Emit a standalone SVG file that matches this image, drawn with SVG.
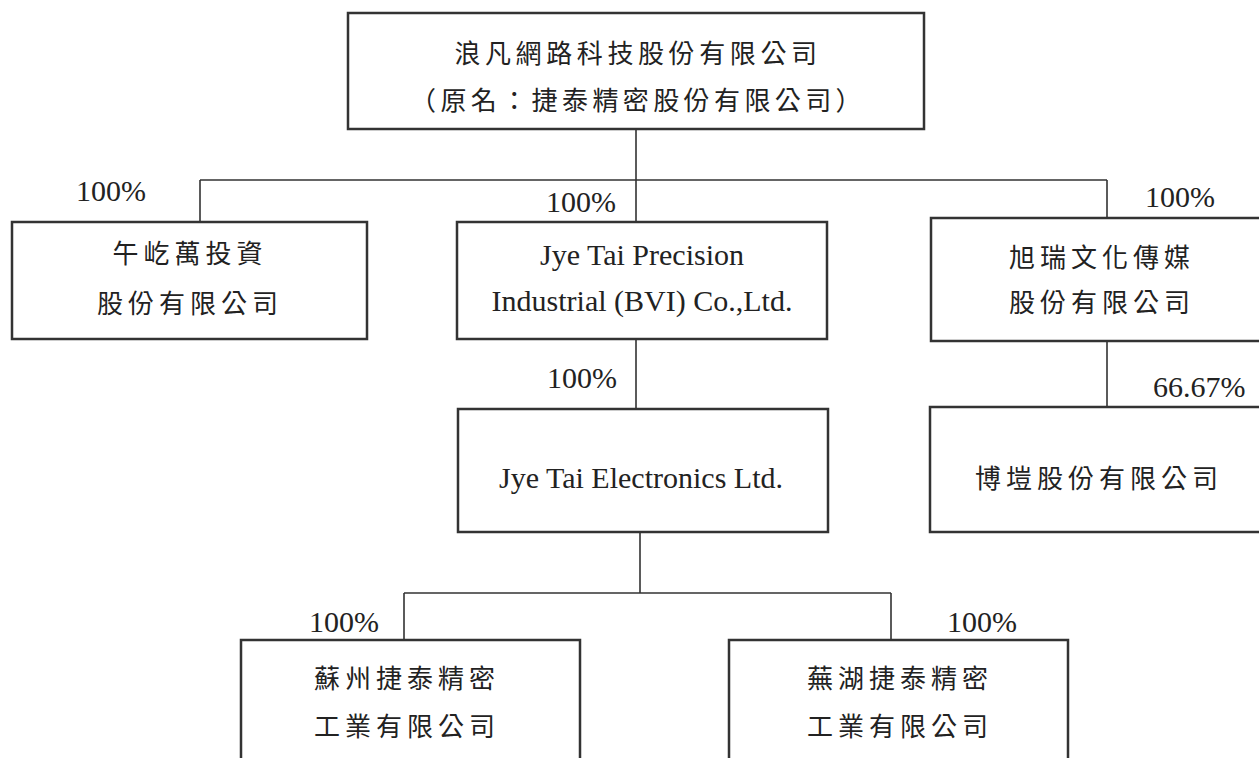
<svg xmlns="http://www.w3.org/2000/svg" width="1259" height="758" viewBox="0 0 1259 758">
<style>
.box{fill:#fff;stroke:#333;stroke-width:2.5}
.ln{fill:none;stroke:#333;stroke-width:1.6}
.cjk{font-family:"Noto Sans CJK TC","Noto Sans CJK SC",sans-serif;font-size:26px;letter-spacing:5px;fill:#222;text-anchor:middle;dominant-baseline:central}
.lat{font-family:"Liberation Serif","Times New Roman",serif;font-size:30px;fill:#222;text-anchor:middle}
.pct{font-family:"Liberation Serif","Times New Roman",serif;font-size:30px;fill:#222}
</style>
<rect width="1259" height="758" fill="#fff"/>
<g id="connectors">
<path class="ln" d="M636,129 V180 M200,180 H1107 M200,180 V222 M636,180 V222 M1107,180 V218"/>
<path class="ln" d="M636,339 V409 M1107,341 V407"/>
<path class="ln" d="M640,532 V593 M404,593 H891 M404,593 V640 M891,593 V640"/>
</g>
<g id="n-top">
<rect class="box" x="348" y="13" width="576" height="116"/>
<text class="cjk" x="638" y="51" style="letter-spacing:4.6px">浪凡網路科技股份有限公司</text>
<text class="cjk" x="638" y="98" style="letter-spacing:4.4px">（原名：捷泰精密股份有限公司）</text>
</g>
<g id="n-wuyiwan">
<rect class="box" x="12" y="222" width="355" height="117"/>
<text class="pct" x="76" y="201">100%</text>
<text class="cjk" x="190" y="251">午屹萬投資</text>
<text class="cjk" x="190" y="301">股份有限公司</text>
</g>
<g id="n-bvi">
<rect class="box" x="457" y="222" width="370" height="117"/>
<text class="pct" x="546" y="212">100%</text>
<text class="lat" x="642" y="265">Jye Tai Precision</text>
<text class="lat" x="642" y="311">Industrial (BVI) Co.,Ltd.</text>
</g>
<g id="n-xurui">
<rect class="box" x="931" y="218" width="340" height="123"/>
<text class="pct" x="1145" y="207">100%</text>
<text class="cjk" x="1102" y="255">旭瑞文化傳媒</text>
<text class="cjk" x="1102" y="300">股份有限公司</text>
</g>
<g id="n-electronics">
<rect class="box" x="458" y="409" width="370" height="123"/>
<text class="pct" x="547" y="388">100%</text>
<text class="lat" x="641" y="488">Jye Tai Electronics Ltd.</text>
</g>
<g id="n-bokai">
<rect class="box" x="930" y="407" width="340" height="125"/>
<text class="pct" x="1153" y="397">66.67%</text>
<text class="cjk" x="1099" y="476">博塏股份有限公司</text>
</g>
<g id="n-suzhou">
<rect class="box" x="241" y="640" width="339" height="130"/>
<text class="pct" x="309" y="632">100%</text>
<text class="cjk" x="407" y="676">蘇州捷泰精密</text>
<text class="cjk" x="407" y="724">工業有限公司</text>
</g>
<g id="n-wuhu">
<rect class="box" x="729" y="640" width="339" height="130"/>
<text class="pct" x="947" y="632">100%</text>
<text class="cjk" x="900" y="676">蕪湖捷泰精密</text>
<text class="cjk" x="900" y="724">工業有限公司</text>
</g>
</svg>
